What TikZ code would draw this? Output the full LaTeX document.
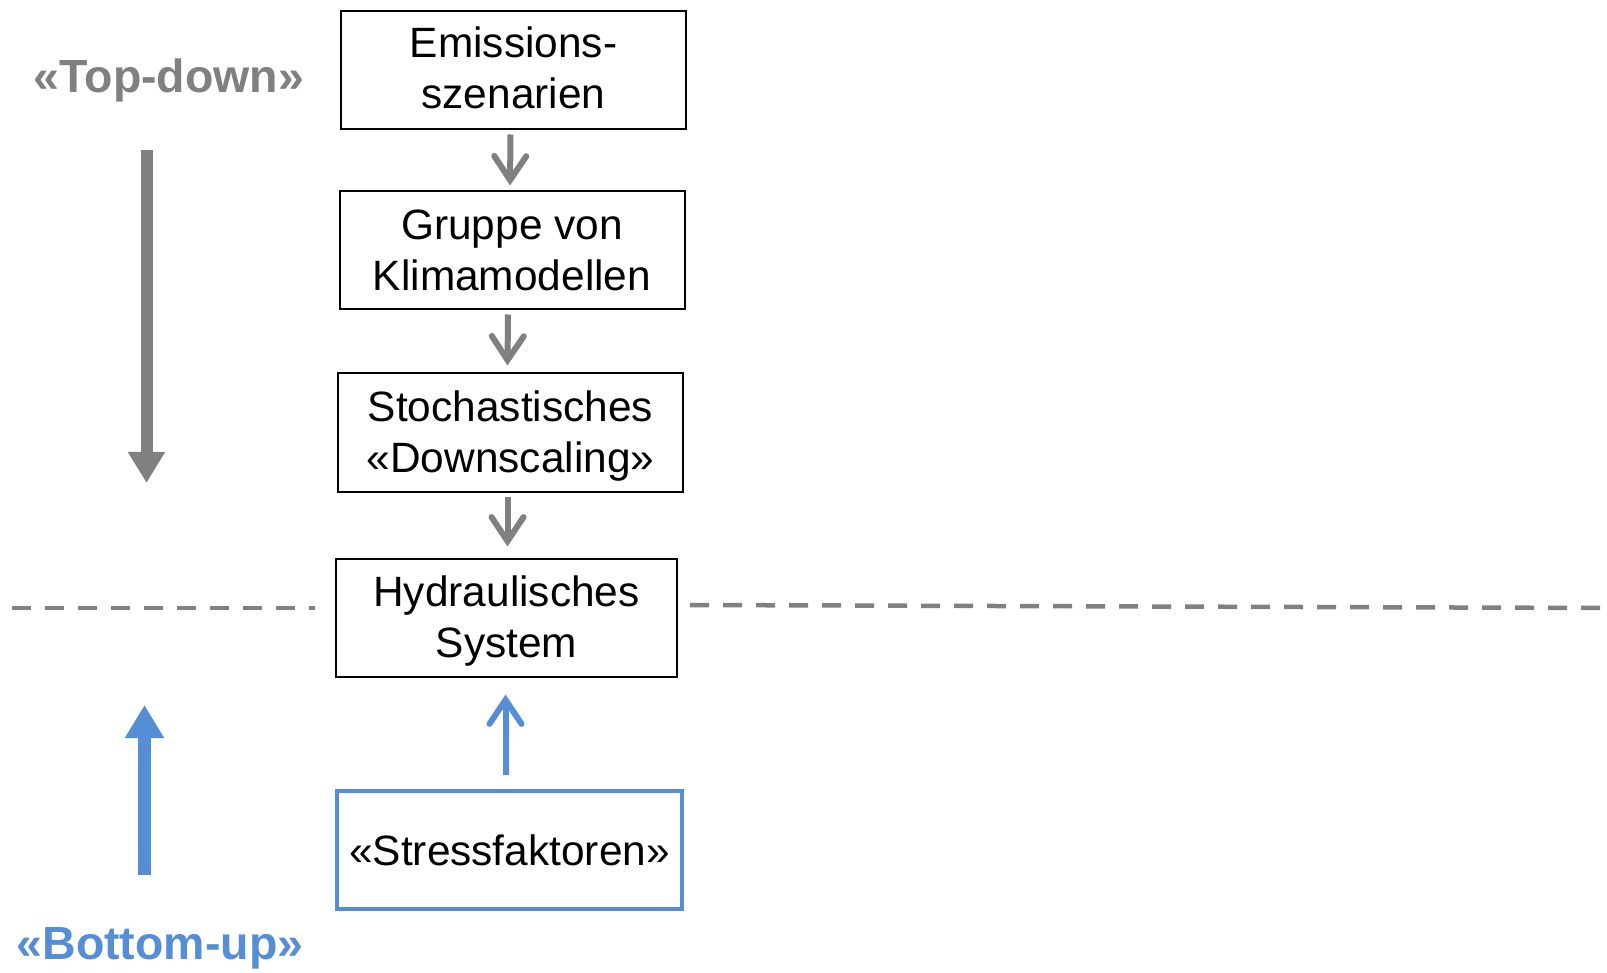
\documentclass[tikz,border=0pt]{standalone}
\usepackage{fontspec}
\setmainfont{Liberation Sans}
\usetikzlibrary{arrows.meta}
\definecolor{flowgray}{HTML}{808080}
\definecolor{upblue}{HTML}{558ED5}
% line struts: a normal one and a taller one for first lines
\newcommand{\lnstrut}{\rule[-15.3pt]{0pt}{51pt}}
\newcommand{\firststrut}[1]{\rule[-15.3pt]{0pt}{#1}}

\begin{document}
\begin{tikzpicture}[x=1pt,y=1pt,
  stage/.style={draw=black, line width=2pt, inner sep=0pt, align=center,
    minimum width=345pt, minimum height=118pt,
    font=\fontsize{42.4}{51}\selectfont},
  stressbox/.style={stage, draw=upblue, line width=4pt, minimum width=345pt},
  flowarrow/.style={draw=flowgray, line width=6pt,
    -{Straight Barb[length=24pt,width=32pt,line cap=round]}},
  uparrow/.style={flowarrow, draw=upblue},
  bigdown/.style={draw=flowgray, fill=flowgray, line width=12pt,
    -{Triangle[length=31pt,width=35pt]}},
  bigup/.style={draw=upblue, fill=upblue, line width=13pt,
    -{Triangle[length=33pt,width=37pt]}},
  divider/.style={draw=flowgray, line width=4.5pt, dash pattern=on 19pt off 14pt},
  sidelabel/.style={font=\fontsize{46.5}{56}\selectfont\bfseries, inner sep=0pt}
]
\useasboundingbox (0,0) rectangle (1607,-973);

% dashed separator between the two approaches
\coordinate (dl1) at (12,-608);
\coordinate (dl2) at (315,-608);
\coordinate (dr1) at (690,-605);
\coordinate (dr2) at (1607,-608);
\draw[divider] (dl1) -- (dl2);
\draw[divider] (dr1) -- (dr2);

% modelling chain
\node[stage] (emis)  at (513.5,-70.5) {\firststrut{55pt}Emissions-\\\lnstrut szenarien};
\node[stage] (klima) at (512,-250.5)  {\firststrut{59pt}Gruppe von\\\lnstrut Klimamodellen};
\node[stage] (down)  at (510.5,-432.5) {\firststrut{59pt}Stochastisches\\\lnstrut «Downscaling»};
\node[stage, minimum width=341pt] (hydro) at (506.5,-617.5) {\firststrut{59pt}Hydraulisches\\\lnstrut System};
\node[stressbox] (stress) at (509.5,-850) {«Stressfaktoren»};

\draw[flowarrow] ([xshift=-3pt,yshift=-4pt]emis.south) -- ([xshift=-2pt,yshift=5pt]klima.north);
\draw[flowarrow] ([xshift=-4pt,yshift=-4pt]klima.south) -- ([xshift=-3pt,yshift=7pt]down.north);
\draw[flowarrow] ([xshift=-3pt,yshift=-4pt]down.south) -- ([xshift=1pt,yshift=11pt]hydro.north);
\draw[uparrow] ([xshift=-4pt,yshift=14pt]stress.north) -- ([xshift=-1pt,yshift=-17pt]hydro.south);

% approach labels and direction arrows
\node[sidelabel, text=flowgray] (topdown) at (169,-80) {«Top-down»};
\node[sidelabel, text=upblue] (bottomup) at (160,-948) {«Bottom-up»};
\coordinate (tdstart) at (146.5,-150);
\coordinate (tdend) at (146.5,-483);
\coordinate (bustart) at (144.5,-875);
\coordinate (buend) at (144.5,-705);
\draw[bigdown] (tdstart) -- (tdend);
\draw[bigup] (bustart) -- (buend);
\end{tikzpicture}
\end{document}
